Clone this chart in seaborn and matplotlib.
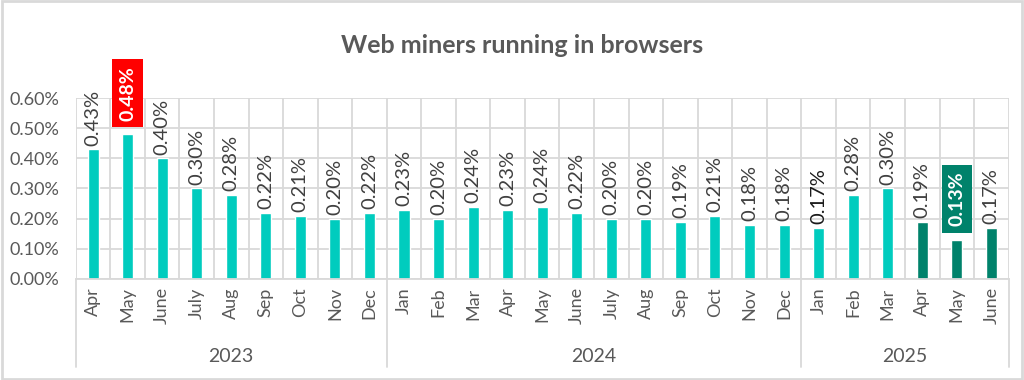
import pandas as pd
import numpy as np
import matplotlib
matplotlib.use("Agg")
import matplotlib.pyplot as plt
import seaborn as sns
from matplotlib.patches import Rectangle
from matplotlib.lines import Line2D

# chart data
months = ['Apr', 'May', 'June', 'July', 'Aug', 'Sep', 'Oct', 'Nov', 'Dec',
          'Jan', 'Feb', 'Mar', 'Apr', 'May', 'June', 'July', 'Aug', 'Sep', 'Oct', 'Nov', 'Dec',
          'Jan', 'Feb', 'Mar', 'Apr', 'May', 'June']
years = ['2023'] * 9 + ['2024'] * 12 + ['2025'] * 6
values = [0.43, 0.48, 0.40, 0.30, 0.28, 0.22, 0.21, 0.20, 0.22,
          0.23, 0.20, 0.24, 0.23, 0.24, 0.22, 0.20, 0.20, 0.19, 0.21, 0.18, 0.18,
          0.17, 0.28, 0.30, 0.19, 0.13, 0.17]
groups = ['old'] * 24 + ['new'] * 3
highlight = {1: '#FF0000', 25: '#00826B'}  # index -> label box colour

TEAL = '#00CCBE'
DARK = '#00826B'
GREY = '#595959'
GRID = '#D9D9D9'

df = pd.DataFrame({
    'pos': [str(i) for i in range(len(values))],
    'value': values,
    'group': groups,
})

sns.set_style('white')
plt.rcParams['font.family'] = ['Lato', 'DejaVu Sans']

fig = plt.figure(figsize=(10.24, 3.8), dpi=100)
ax = fig.add_axes([0.074, 0.266, 0.911, 0.476])

sns.barplot(data=df, x='pos', y='value', hue='group',
            palette={'old': TEAL, 'new': DARK}, dodge=False,
            width=0.32, legend=False, ax=ax, saturation=1)

n = len(values)
ax.set_xlim(-0.5, n - 0.5)
ax.set_ylim(0, 0.60)
ax.set_yticks(np.arange(0, 0.61, 0.1))
ax.set_yticklabels([f'{t:.2f}%' for t in np.arange(0, 0.61, 0.1)],
                   fontsize=13, color=GREY)
ax.set_xticks(range(n))
ax.set_xticklabels(months, rotation=90, fontsize=13, color=GREY)
ax.set_xticks(np.arange(-0.5, n, 1), minor=True)
ax.tick_params(axis='both', length=0, pad=6)
ax.tick_params(axis='y', pad=12)
ax.set_xlabel('')
ax.set_ylabel('')

ax.grid(True, axis='y', which='major', color=GRID, lw=1.3)
ax.grid(True, axis='x', which='minor', color=GRID, lw=1.3)
ax.set_axisbelow(True)
for s in ax.spines.values():
    s.set_visible(False)
ax.spines['bottom'].set_visible(True)
ax.spines['bottom'].set_color(GRID)
ax.spines['bottom'].set_linewidth(1.3)

# value labels
for p in ax.patches[:n * 2]:
    h = p.get_height()
    if not np.isfinite(h) or h == 0:
        continue
    x = p.get_x() + p.get_width() / 2
    idx = int(round(x))
    txt = f'{values[idx]:.2f}%'
    if idx in highlight:
        ax.text(x, h + 0.045, txt, rotation=90, ha='center', va='bottom',
                fontsize=14, fontweight='bold', color='white', clip_on=False,
                bbox=dict(boxstyle='square,pad=0.35', fc=highlight[idx], ec='none'))
    else:
        col = '#1A1A1A' if idx == 21 else '#404040'
        ax.text(x, h + 0.012, txt, rotation=90, ha='center', va='bottom',
                fontsize=14.5, color=col, clip_on=False)

# year group labels and separators
trans = ax.get_xaxis_transform()
bounds = [-0.5]
for k, y in enumerate(years):
    if k > 0 and y != years[k - 1]:
        bounds.append(k - 0.5)
bounds.append(n - 0.5)
for b in bounds:
    ax.add_line(Line2D([b, b], [0, -0.486], transform=trans, color=GRID,
                       lw=1.3, clip_on=False))
for a, b in zip(bounds[:-1], bounds[1:]):
    ax.text((a + b) / 2, -0.43, years[int(a + 0.5)], transform=trans,
            ha='center', va='center', fontsize=14, color=GREY)

fig.text(0.51, 0.88, 'Web miners running in browsers', ha='center', va='center',
         fontsize=18, fontweight='bold', color=GREY)

# outer border
fig.patches.append(Rectangle((0.002, 0.003), 0.996, 0.994, transform=fig.transFigure,
                             fill=False, ec=GRID, lw=2))

fig.savefig('out.png', dpi=100)
